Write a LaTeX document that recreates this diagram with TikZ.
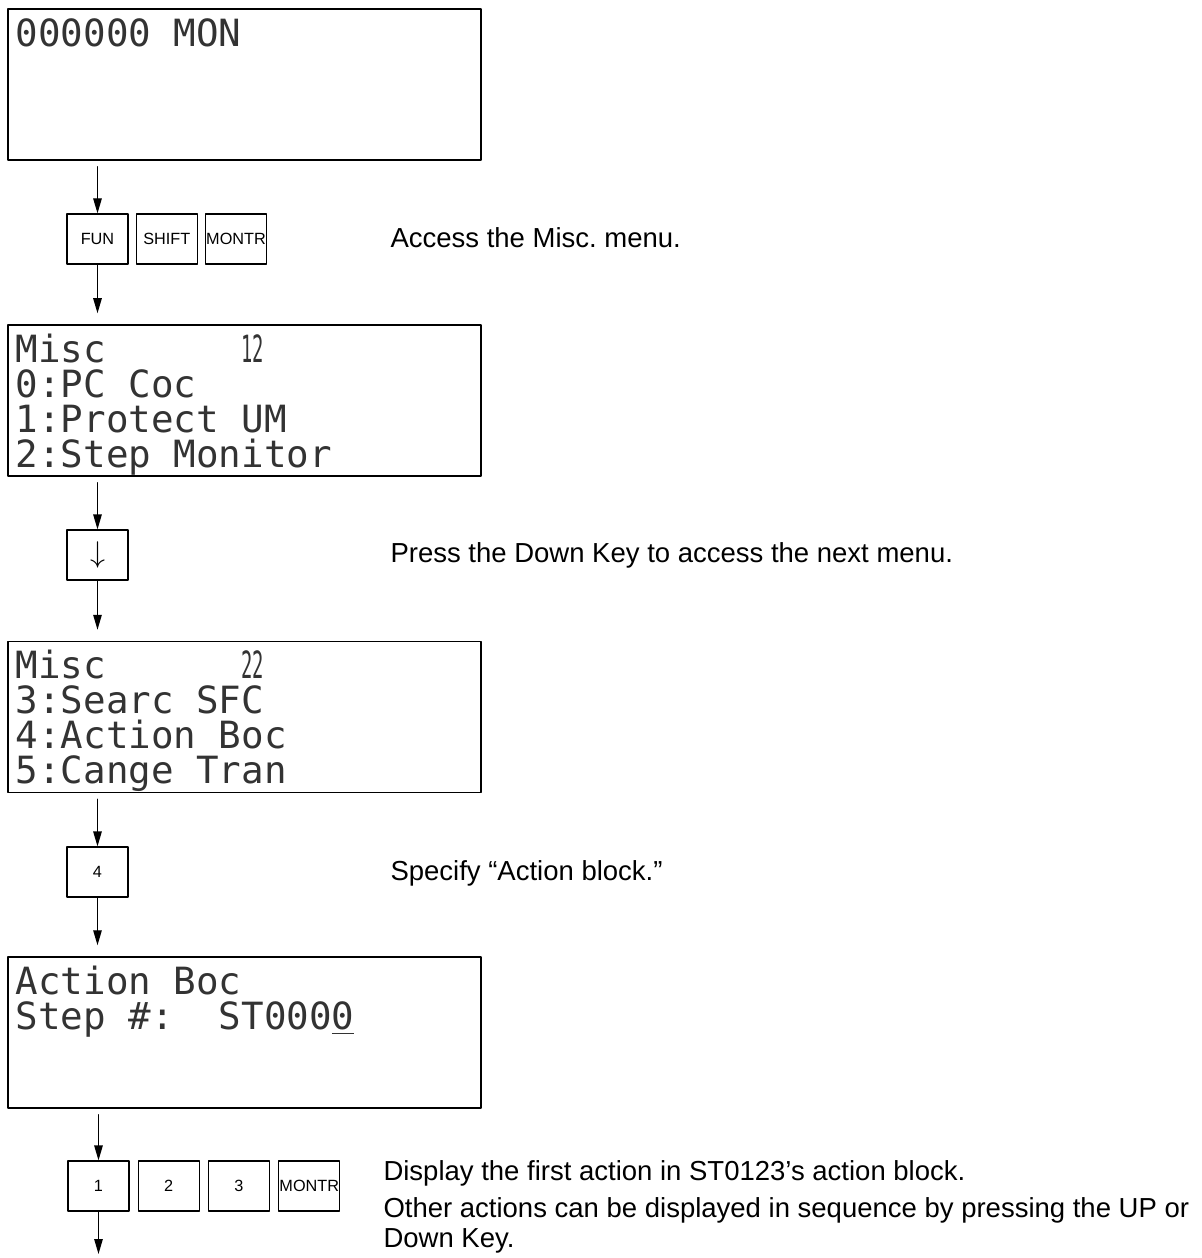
\documentclass[tikz,border=0pt]{standalone}
\usepackage{fontspec}
\usepackage{graphicx}
\setmainfont{Liberation Sans}
\newfontfamily\lcdfont{DejaVu Sans Mono}
\usetikzlibrary{arrows.meta,positioning}
\frenchspacing

\begin{document}
\begin{tikzpicture}[x=0.4pt, y=-0.4pt, line cap=round, line join=round,
    screen/.style={draw, line width=0.6pt, minimum width=189.2pt, minimum height=60.4pt, inner sep=0pt},
    lcd/.style={font=\lcdfont\fontsize{15}{14}\selectfont, text=black!80, inner sep=0pt, anchor=base west},
    key/.style={draw, line width=0.5pt, font=\fontsize{6.5}{8}\selectfont, minimum width=24.4pt, minimum height=20pt, inner sep=0pt},
    note/.style={font=\fontsize{11}{12}\selectfont, inner sep=0pt, anchor=base west},
    flow/.style={-{Triangle[length=6pt,width=3.4pt]}, line width=0.5pt}]
  % page size in px of the original
  \useasboundingbox (0,0) rectangle (1201,1258);

  % display screens
  \node[screen] (s1) at (244.5,84.5) {};
  \node[screen] (s2) at (244.5,400.5) {};
  \node[screen] (s3) at (244.5,717) {};
  \node[screen] (s4) at (244.5,1032.5) {};

  % screen contents
  \node[lcd] (s1l1) at ([xshift=3.2pt,yshift=-15.2pt]s1.north west) {000000~MON};
  \foreach \txt [count=\i] in {Misc~~~~~~\scalebox{0.5}[1]{12}, 0:PC~Coc, 1:Protect~UM, 2:Step~Monitor}
    \node[lcd] (s2l\i) at ([xshift=3.2pt,yshift={-15.2pt-14pt*(\i-1)}]s2.north west) {\txt};
  \foreach \txt [count=\i] in {Misc~~~~~~\scalebox{0.5}[1]{22}, 3:Searc~SFC, 4:Action~Boc, 5:Cange~Tran}
    \node[lcd] (s3l\i) at ([xshift=3.2pt,yshift={-15.2pt-14pt*(\i-1)}]s3.north west) {\txt};
  \foreach \txt [count=\i] in {Action~Boc, Step~\#:~~ST000\underline{0}}
    \node[lcd] (s4l\i) at ([xshift=3.2pt,yshift={-15.2pt-14pt*(\i-1)}]s4.north west) {\txt};

  % keys
  \node[key] (fun) at (97.5,239) {FUN};
  \node[key, right=2.8pt of fun] (shiftkey) {SHIFT};
  \node[key, right=2.8pt of shiftkey] (montr) {MONTR};
  \node[key] (down) at (97.5,555) {\fontsize{12}{12}\selectfont$\downarrow$};
  \node[key] (k4) at (97.5,872) {4};
  \node[key] (k1) at (98.5,1186) {1};
  \node[key, right=3.2pt of k1] (k2) {2};
  \node[key, right=3.2pt of k2] (k3) {3};
  \node[key, right=3.2pt of k3] (montrb) {MONTR};

  % flow arrows
  \draw[flow] ([yshift=-2.4pt]s1.south -| fun.north) -- (fun.north);
  \draw[flow] (fun.south) -- ([yshift=4.4pt]s2.north -| fun.south);
  \draw[flow] ([yshift=-2.4pt]s2.south -| down.north) -- (down.north);
  \draw[flow] (down.south) -- ([yshift=4.4pt]s3.north -| down.south);
  \draw[flow] ([yshift=-2.4pt]s3.south -| k4.north) -- (k4.north);
  \draw[flow] (k4.south) -- ([yshift=4.4pt]s4.north -| k4.south);
  \draw[flow] ([yshift=-2.4pt]s4.south -| k1.north) -- (k1.north);
  \coordinate (out) at (98.5,1254);
  \draw[flow] (k1.south) -- (out);

  % explanations
  \node[note] (t1) at (390,248) {Access the Misc. menu.};
  \node[note] (t2) at (390,562) {Press the Down Key to access the next menu.};
  \node[note] (t3) at (390,880) {Specify “Action block.”};
  \node[note] (t4) at (383,1180) {Display the first action in ST0123’s action block.};
  \node[note] (t5) at (383,1217) {Other actions can be displayed in sequence by pressing the UP or};
  \node[note] (t6) at (383,1247) {Down Key.};
\end{tikzpicture}
\end{document}
